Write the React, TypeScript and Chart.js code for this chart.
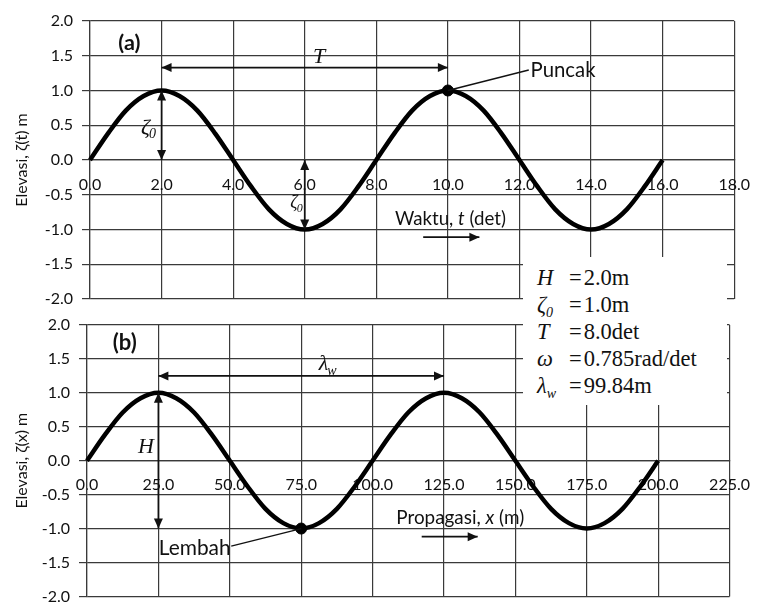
import React, { useEffect, useRef } from "react";
import { Chart, registerables } from "chart.js";

Chart.register(...registerables);

// Panel (a): surface elevation against time
const timeSeconds = [
  0, 0.5, 1, 1.5, 2, 2.5, 3, 3.5, 4, 4.5, 5, 5.5, 6, 6.5, 7, 7.5, 8,
  8.5, 9, 9.5, 10, 10.5, 11, 11.5, 12, 12.5, 13, 13.5, 14, 14.5, 15, 15.5, 16,
];
const elevationInTime = [
  0, 0.38, 0.71, 0.92, 1, 0.92, 0.71, 0.38, 0, -0.38, -0.71, -0.92, -1, -0.92, -0.71, -0.38, 0,
  0.38, 0.71, 0.92, 1, 0.92, 0.71, 0.38, 0, -0.38, -0.71, -0.92, -1, -0.92, -0.71, -0.38, 0,
];
const timeTicks = [0, 2, 4, 6, 8, 10, 12, 14, 16, 18];
const crestTime = [10];
const crestElevation = [1];

// Panel (b): surface elevation against distance
const distanceMetres = [
  0, 6.25, 12.5, 18.75, 25, 31.25, 37.5, 43.75, 50, 56.25, 62.5, 68.75, 75, 81.25, 87.5, 93.75, 100,
  106.25, 112.5, 118.75, 125, 131.25, 137.5, 143.75, 150, 156.25, 162.5, 168.75, 175, 181.25, 187.5, 193.75, 200,
];
const elevationInSpace = [
  0, 0.38, 0.71, 0.92, 1, 0.92, 0.71, 0.38, 0, -0.38, -0.71, -0.92, -1, -0.92, -0.71, -0.38, 0,
  0.38, 0.71, 0.92, 1, 0.92, 0.71, 0.38, 0, -0.38, -0.71, -0.92, -1, -0.92, -0.71, -0.38, 0,
];
const distanceTicks = [0, 25, 50, 75, 100, 125, 150, 175, 200, 225];
const troughDistance = [75];
const troughElevation = [-1];

const elevationTicks = [-2, -1.5, -1, -0.5, 0, 0.5, 1, 1.5, 2];

// Wave parameters listed in the legend box
const paramSymbols = ["H", "ζ", "T", "ω", "λ"];
const paramSubscripts = ["", "0", "", "", "w"];
const paramValues = ["2.0m", "1.0m", "8.0det", "0.785rad/det", "99.84m"];

const SANS = "Lato, 'Open Sans', sans-serif";
const SERIF = "'Liberation Serif', 'DejaVu Serif', serif";
const INK = "#111";
const GRID = "#3a3a3a";

// A text run: [style, weight, content]
type Run = [string, string, string];

type Note =
  | { kind: "text"; x: number; y: number; runs: Run[]; width: number; align?: "left" | "center" }
  | { kind: "symbol"; x: number; y: number; main: string; sub: string; size: number }
  | { kind: "darrow" | "arrow" | "line"; x1: number; y1: number; x2: number; y2: number };

function head(ctx: CanvasRenderingContext2D, x: number, y: number, ang: number) {
  const len = 10;
  const half = 4.5;
  ctx.beginPath();
  ctx.moveTo(x, y);
  ctx.lineTo(x - len * Math.cos(ang) + half * Math.sin(ang), y - len * Math.sin(ang) - half * Math.cos(ang));
  ctx.lineTo(x - len * Math.cos(ang) - half * Math.sin(ang), y - len * Math.sin(ang) + half * Math.cos(ang));
  ctx.closePath();
  ctx.fill();
}

function notesPlugin(notes: Note[]) {
  return {
    id: "waveNotes",
    afterDatasetsDraw(chart: any) {
      const { ctx } = chart;
      const sx = chart.scales.x;
      const sy = chart.scales.y;
      const px = (v: number) => sx.getPixelForValue(v);
      const py = (v: number) => sy.getPixelForValue(v);
      ctx.save();
      ctx.fillStyle = INK;
      ctx.strokeStyle = INK;
      for (const n of notes) {
        if (n.kind === "text") {
          ctx.textBaseline = "middle";
          ctx.textAlign = "left";
          // size the label so that it spans the requested width
          const font = (r: Run, size: number) => `${r[0]} ${r[1]} ${size}px ${SANS}`;
          let base = 0;
          for (const r of n.runs) {
            ctx.font = font(r, 20);
            base += ctx.measureText(r[2]).width;
          }
          const size = (20 * n.width) / base;
          let cx = px(n.x) - (n.align === "center" ? n.width / 2 : 0);
          for (const r of n.runs) {
            ctx.font = font(r, size);
            ctx.fillText(r[2], cx, py(n.y));
            cx += ctx.measureText(r[2]).width;
          }
        } else if (n.kind === "symbol") {
          ctx.textBaseline = "middle";
          ctx.textAlign = "left";
          ctx.font = `italic ${n.size}px ${SERIF}`;
          const w = ctx.measureText(n.main).width;
          const x0 = px(n.x) - w / 2;
          ctx.fillText(n.main, x0, py(n.y));
          if (n.sub) {
            ctx.font = `italic ${Math.round(n.size * 0.65)}px ${SERIF}`;
            ctx.fillText(n.sub, x0 + w - 1, py(n.y) + n.size * 0.3);
          }
        } else {
          const x1 = px(n.x1), y1 = py(n.y1), x2 = px(n.x2), y2 = py(n.y2);
          const ang = Math.atan2(y2 - y1, x2 - x1);
          ctx.lineWidth = n.kind === "line" ? 1.3 : 1.7;
          ctx.beginPath();
          ctx.moveTo(x1, y1);
          ctx.lineTo(x2, y2);
          ctx.stroke();
          if (n.kind !== "line") head(ctx, x2, y2, ang);
          if (n.kind === "darrow") head(ctx, x1, y1, ang + Math.PI);
        }
      }
      ctx.restore();
    },
  };
}

function buildChart(
  canvas: HTMLCanvasElement,
  xs: number[],
  ys: number[],
  markX: number[],
  markY: number[],
  xTicks: number[],
  yTitle: string,
  axisWidth: number,
  padding: { top: number; right: number; bottom: number; left: number },
  notes: Note[]
) {
  return new Chart(canvas, {
    type: "line",
    data: {
      datasets: [
        {
          data: xs.map((x, i) => ({ x, y: ys[i] })),
          borderColor: "#000",
          borderWidth: 4.5,
          pointRadius: 0,
          cubicInterpolationMode: "monotone",
          clip: 6,
        },
        {
          data: markX.map((x, i) => ({ x, y: markY[i] })),
          showLine: false,
          pointRadius: 5.5,
          pointBackgroundColor: "#000",
          pointBorderColor: "#000",
          clip: 8,
        },
      ],
    },
    options: {
      responsive: false,
      animation: false,
      events: [],
      layout: { padding },
      plugins: { legend: { display: false }, tooltip: { enabled: false } },
      scales: {
        x: {
          type: "linear",
          min: xTicks[0],
          max: xTicks[xTicks.length - 1],
          position: { y: 0 } as any,
          afterBuildTicks: (s: any) => {
            s.ticks = xTicks.map((value) => ({ value }));
          },
          ticks: {
            callback: (v: any) => Number(v).toFixed(1),
            font: { family: SANS, size: 16 },
            color: INK,
            padding: 15,
            maxRotation: 0,
            autoSkip: false,
          },
          grid: { color: GRID, lineWidth: 1.2, drawTicks: false },
          border: { display: true, color: GRID, width: 1.2 },
        },
        y: {
          type: "linear",
          min: -2,
          max: 2,
          afterBuildTicks: (s: any) => {
            s.ticks = elevationTicks.map((value) => ({ value }));
          },
          afterFit: (s: any) => {
            s.width = axisWidth;
          },
          ticks: {
            callback: (v: any) => Number(v).toFixed(1),
            font: { family: SANS, size: 16 },
            color: INK,
            padding: 9,
            autoSkip: false,
          },
          grid: { color: GRID, lineWidth: 1.2, tickLength: 8 },
          border: { display: true, color: GRID, width: 1.2 },
          title: {
            display: true,
            text: yTitle,
            font: { family: SANS, size: 16 },
            color: INK,
            padding: { top: 12, bottom: 0 },
          },
        },
      },
    },
    plugins: [notesPlugin(notes)],
  } as any);
}

const timeNotes: Note[] = [
  { kind: "text", x: 1.1, y: 1.68, runs: [["normal", "bold", "(a)"]], width: 22, align: "center" },
  { kind: "darrow", x1: 2, y1: 1.33, x2: 10, y2: 1.33 },
  { kind: "symbol", x: 6.4, y: 1.48, main: "T", sub: "", size: 22 },
  { kind: "darrow", x1: 2, y1: 1, x2: 2, y2: 0 },
  { kind: "symbol", x: 1.55, y: 0.46, main: "ζ", sub: "0", size: 22 },
  { kind: "darrow", x1: 6, y1: 0, x2: 6, y2: -1 },
  { kind: "symbol", x: 5.7, y: -0.62, main: "ζ", sub: "0", size: 18 },
  { kind: "line", x1: 10, y1: 1, x2: 12.26, y2: 1.295 },
  { kind: "text", x: 12.31, y: 1.29, runs: [["normal", "normal", "Puncak"]], width: 65 },
  {
    kind: "text",
    x: 8.52,
    y: -0.85,
    width: 111,
    runs: [
      ["normal", "normal", "Waktu, "],
      ["italic", "normal", "t"],
      ["normal", "normal", " (det)"],
    ],
  },
  { kind: "arrow", x1: 9.31, y1: -1.11, x2: 10.88, y2: -1.11 },
];

const spaceNotes: Note[] = [
  { kind: "text", x: 13.2, y: 1.74, runs: [["normal", "bold", "(b)"]], width: 24, align: "center" },
  { kind: "darrow", x1: 25, y1: 1.25, x2: 125, y2: 1.25 },
  { kind: "symbol", x: 82.8, y: 1.42, main: "λ", sub: "w", size: 22 },
  { kind: "darrow", x1: 25, y1: 1, x2: 25, y2: -1 },
  { kind: "symbol", x: 20.6, y: 0.195, main: "H", sub: "", size: 22 },
  { kind: "line", x1: 75, y1: -1, x2: 50.5, y2: -1.26 },
  { kind: "text", x: 25.1, y: -1.29, runs: [["normal", "normal", "Lembah"]], width: 72 },
  {
    kind: "text",
    x: 108.3,
    y: -0.85,
    width: 128,
    runs: [
      ["normal", "normal", "Propagasi, "],
      ["italic", "normal", "x"],
      ["normal", "normal", " (m)"],
    ],
  },
  { kind: "arrow", x1: 117.2, y1: -1.12, x2: 136.8, y2: -1.12 },
];

const W = 765;
const H = 615;

export default function App() {
  const topRef = useRef<HTMLCanvasElement>(null);
  const bottomRef = useRef<HTMLCanvasElement>(null);

  useEffect(() => {
    const a = buildChart(
      topRef.current!,
      timeSeconds,
      elevationInTime,
      crestTime,
      crestElevation,
      timeTicks,
      "Elevasi, ζ(t) m",
      90,
      { top: 21, right: 21, bottom: H - 299, left: 0 },
      timeNotes
    );
    const b = buildChart(
      bottomRef.current!,
      distanceMetres,
      elevationInSpace,
      troughDistance,
      troughElevation,
      distanceTicks,
      "Elevasi, ζ(x) m",
      87,
      { top: 325, right: 23, bottom: H - 602, left: 0 },
      spaceNotes
    );
    return () => {
      a.destroy();
      b.destroy();
    };
  }, []);

  const canvasStyle: React.CSSProperties = { position: "absolute", left: 0, top: 0, display: "block" };

  return (
    <div
      style={{
        position: "absolute",
        left: 0,
        top: 0,
        width: 765,
        height: 609,
        overflow: "hidden",
        background: "#fff",
      }}
    >
      <canvas ref={topRef} width={W} height={H} style={canvasStyle} />
      <canvas ref={bottomRef} width={W} height={H} style={canvasStyle} />
      <div
        style={{
          position: "absolute",
          left: 523,
          top: 257,
          width: 204,
          height: 148,
          background: "#fff",
          fontFamily: SERIF,
          fontSize: 22.5,
          color: INK,
          paddingTop: 7,
          boxSizing: "border-box",
        }}
      >
        {paramSymbols.map((sym, i) => (
          <div key={i} style={{ height: 27, lineHeight: "27px", whiteSpace: "nowrap", position: "relative" }}>
            <span style={{ position: "absolute", left: 14, fontStyle: "italic" }}>
              {sym}
              {paramSubscripts[i] && (
                <span style={{ fontSize: 14, position: "relative", top: 5 }}>{paramSubscripts[i]}</span>
              )}
            </span>
            <span style={{ position: "absolute", left: 46 }}>
              =<span style={{ marginLeft: 2 }}>{paramValues[i]}</span>
            </span>
          </div>
        ))}
      </div>
    </div>
  );
}
